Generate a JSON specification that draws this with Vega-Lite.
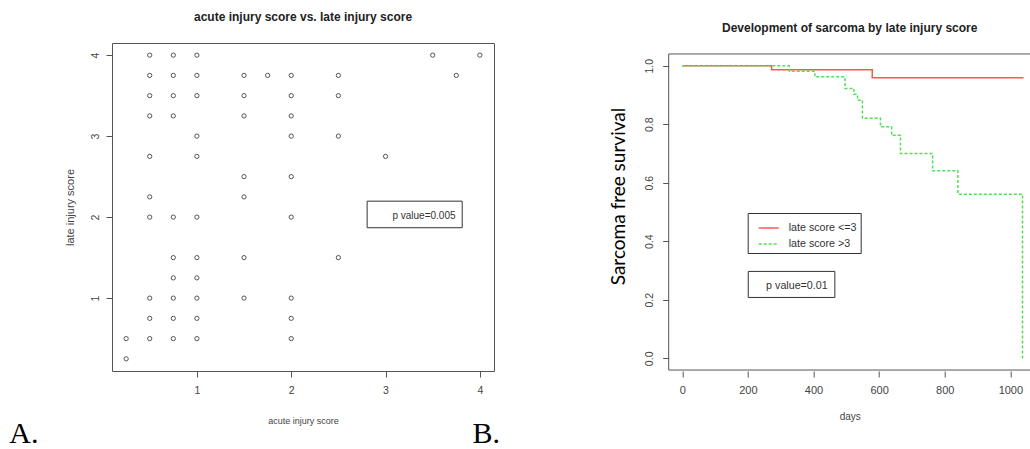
{
  "$schema": "https://vega.github.io/schema/vega-lite/v6.json",
  "background": "white",
  "padding": {"left": 8, "top": 10, "right": 0, "bottom": 0},
  "spacing": 174.7,
  "bounds": "flush",
  "resolve": {"scale": {"color": "independent", "strokeDash": "independent"}},
  "config": {
    "view": {"stroke": "#555", "strokeWidth": 1},
    "axis": {
      "domain": false, "grid": false, "ticks": true, "tickColor": "#555", "tickSize": 6,
      "labelFont": "Liberation Sans", "labelFontSize": 10.5, "labelColor": "#444",
      "titleFont": "Liberation Sans", "titleFontWeight": "normal", "titleColor": "#444"
    },
    "title": {"font": "Liberation Sans", "fontSize": 12, "fontWeight": "bold", "color": "#222", "anchor": "middle"}
  },
  "hconcat": [
    {
      "width": 382,
      "height": 328,
      "title": {"text": "acute injury score vs. late injury score", "offset": 19},
      "layer": [
        {
          "data": {"values": [
            {"acute": 0.5, "late": 4}, {"acute": 0.75, "late": 4}, {"acute": 1, "late": 4}, {"acute": 3.5, "late": 4}, {"acute": 4, "late": 4},
            {"acute": 0.5, "late": 3.75}, {"acute": 0.75, "late": 3.75}, {"acute": 1, "late": 3.75}, {"acute": 1.5, "late": 3.75}, {"acute": 1.75, "late": 3.75}, {"acute": 2, "late": 3.75}, {"acute": 2.5, "late": 3.75}, {"acute": 3.75, "late": 3.75},
            {"acute": 0.5, "late": 3.5}, {"acute": 0.75, "late": 3.5}, {"acute": 1, "late": 3.5}, {"acute": 1.5, "late": 3.5}, {"acute": 2, "late": 3.5}, {"acute": 2.5, "late": 3.5},
            {"acute": 0.5, "late": 3.25}, {"acute": 0.75, "late": 3.25}, {"acute": 1.5, "late": 3.25}, {"acute": 2, "late": 3.25},
            {"acute": 1, "late": 3}, {"acute": 2, "late": 3}, {"acute": 2.5, "late": 3},
            {"acute": 0.5, "late": 2.75}, {"acute": 1, "late": 2.75}, {"acute": 3, "late": 2.75},
            {"acute": 1.5, "late": 2.5}, {"acute": 2, "late": 2.5},
            {"acute": 0.5, "late": 2.25}, {"acute": 1.5, "late": 2.25},
            {"acute": 0.5, "late": 2}, {"acute": 0.75, "late": 2}, {"acute": 1, "late": 2}, {"acute": 2, "late": 2},
            {"acute": 0.75, "late": 1.5}, {"acute": 1, "late": 1.5}, {"acute": 1.5, "late": 1.5}, {"acute": 2.5, "late": 1.5},
            {"acute": 0.75, "late": 1.25}, {"acute": 1, "late": 1.25},
            {"acute": 0.5, "late": 1}, {"acute": 0.75, "late": 1}, {"acute": 1, "late": 1}, {"acute": 1.5, "late": 1}, {"acute": 2, "late": 1},
            {"acute": 0.5, "late": 0.75}, {"acute": 0.75, "late": 0.75}, {"acute": 1, "late": 0.75}, {"acute": 2, "late": 0.75},
            {"acute": 0.25, "late": 0.5}, {"acute": 0.5, "late": 0.5}, {"acute": 0.75, "late": 0.5}, {"acute": 1, "late": 0.5}, {"acute": 2, "late": 0.5},
            {"acute": 0.25, "late": 0.25}
          ]},
          "mark": {"type": "point", "shape": "circle", "filled": false, "size": 18, "stroke": "#555", "strokeWidth": 1, "opacity": 1},
          "encoding": {
            "x": {"field": "acute", "type": "quantitative",
                  "scale": {"domain": [0.1, 4.15], "nice": false, "zero": false},
                  "axis": {"values": [1, 2, 3, 4], "format": "d", "title": "acute injury score", "titleFontSize": 9, "labelPadding": 8, "titlePadding": 21, "labelAngle": 0}},
            "y": {"field": "late", "type": "quantitative",
                  "scale": {"domain": [0.1, 4.15], "nice": false, "zero": false},
                  "axis": {"values": [1, 2, 3, 4], "format": "d", "title": "late injury score", "titleFontSize": 11, "labelAngle": -90, "labelAlign": "center", "labelBaseline": "bottom", "labelPadding": 6, "titlePadding": 15}}
          }
        },
        {
          "data": {"values": [{}]},
          "mark": {"type": "rect", "fill": "white", "stroke": "#333", "strokeWidth": 1},
          "encoding": {"x": {"datum": 2.805}, "x2": {"datum": 3.813}, "y": {"datum": 2.197}, "y2": {"datum": 1.869}}
        },
        {
          "data": {"values": [{}]},
          "mark": {"type": "text", "align": "right", "baseline": "middle", "font": "Liberation Sans", "fontSize": 10, "color": "#333"},
          "encoding": {"x": {"datum": 3.742}, "y": {"datum": 2.012}, "text": {"value": "p value=0.005"}}
        },
        {
          "data": {"values": [{}]},
          "mark": {"type": "text", "align": "left", "baseline": "alphabetic", "font": "Liberation Serif", "fontSize": 30, "color": "#000", "clip": false},
          "encoding": {"x": {"datum": -0.989}, "y": {"datum": -0.788}, "text": {"value": "A."}}
        },
        {
          "data": {"values": [{}]},
          "mark": {"type": "text", "align": "left", "baseline": "alphabetic", "font": "Liberation Serif", "fontSize": 30, "color": "#000", "clip": false},
          "encoding": {"x": {"datum": 3.922}, "y": {"datum": -0.788}, "text": {"value": "B."}}
        }
      ]
    },
    {
      "width": 362,
      "height": 328,
      "view": {"stroke": null},
      "title": {"text": "Development of sarcoma by late injury score", "offset": 8},
      "layer": [
        {
          "data": {"values": [{}]},
          "mark": {"type": "rule", "stroke": "#555", "strokeWidth": 1},
          "encoding": {"x": {"datum": -41.5}, "x2": {"datum": 1062}, "y": {"datum": 1.04}}
        },
        {
          "data": {"values": [{}]},
          "mark": {"type": "rule", "stroke": "#555", "strokeWidth": 1},
          "encoding": {"x": {"datum": -41.5}, "x2": {"datum": 1062}, "y": {"datum": -0.04}}
        },
        {
          "data": {"values": [{}]},
          "mark": {"type": "rule", "stroke": "#555", "strokeWidth": 1},
          "encoding": {"x": {"datum": -41.5}, "y": {"datum": -0.04}, "y2": {"datum": 1.04}}
        },
        {
          "data": {"values": [
            {"days": 0, "surv": 1.0, "group": "late score <=3"},
            {"days": 272, "surv": 0.986, "group": "late score <=3"},
            {"days": 579, "surv": 0.959, "group": "late score <=3"},
            {"days": 1040, "surv": 0.959, "group": "late score <=3"},
            {"days": 0, "surv": 1.0, "group": "late score >3"},
            {"days": 326, "surv": 0.981, "group": "late score >3"},
            {"days": 404, "surv": 0.962, "group": "late score >3"},
            {"days": 496, "surv": 0.922, "group": "late score >3"},
            {"days": 523, "surv": 0.902, "group": "late score >3"},
            {"days": 534, "surv": 0.882, "group": "late score >3"},
            {"days": 549, "surv": 0.82, "group": "late score >3"},
            {"days": 604, "surv": 0.791, "group": "late score >3"},
            {"days": 638, "surv": 0.762, "group": "late score >3"},
            {"days": 665, "surv": 0.70, "group": "late score >3"},
            {"days": 763, "surv": 0.641, "group": "late score >3"},
            {"days": 840, "surv": 0.561, "group": "late score >3"},
            {"days": 1037, "surv": 0.0, "group": "late score >3"}
          ]},
          "mark": {"type": "line", "interpolate": "step-after", "strokeWidth": 1.5},
          "encoding": {
            "x": {"field": "days", "type": "quantitative",
                  "scale": {"domain": [-41.5, 1062], "nice": false, "zero": false},
                  "axis": {"values": [0, 200, 400, 600, 800, 1000], "format": "d", "title": "days", "titleFontSize": 10, "labelFontSize": 11, "labelPadding": 7, "titlePadding": 16, "labelAngle": 0}},
            "y": {"field": "surv", "type": "quantitative",
                  "scale": {"domain": [-0.0433, 1.0775], "nice": false, "zero": false},
                  "axis": {"values": [0, 0.2, 0.4, 0.6, 0.8, 1.0], "format": ".1f", "title": "Sarcoma free survival", "titleFont": "Lato", "titleFontSize": 19, "titleColor": "#000", "titleY": 153, "labelAngle": -90, "labelAlign": "center", "labelBaseline": "bottom", "labelPadding": 8, "titlePadding": 16}},
            "color": {"field": "group", "type": "nominal",
                      "scale": {"domain": ["late score <=3", "late score >3"], "range": ["#ff5555", "#55dd55"]},
                      "legend": {"title": null, "orient": "none", "legendX": 79, "legendY": 170, "strokeColor": "#333", "fillColor": "white", "padding": 4,
                                 "symbolType": "stroke", "symbolSize": 400, "symbolStrokeWidth": 1.5, "symbolOffset": 6, "labelOffset": 9,
                                 "labelFont": "Liberation Sans", "labelFontSize": 10.7, "labelColor": "#333", "rowPadding": -7}},
            "strokeDash": {"field": "group", "type": "nominal",
                           "scale": {"domain": ["late score <=3", "late score >3"], "range": [[1, 0], [3, 2]]},
                           "legend": {"title": null, "orient": "none", "legendX": 79, "legendY": 170, "strokeColor": "#333", "fillColor": "white", "padding": 4,
                                      "symbolType": "stroke", "symbolSize": 400, "symbolStrokeWidth": 1.5, "symbolOffset": 6, "labelOffset": 9,
                                      "labelFont": "Liberation Sans", "labelFontSize": 10.7, "labelColor": "#333", "rowPadding": -7}}
          }
        },
        {
          "data": {"values": [{}]},
          "mark": {"type": "rect", "fill": "white", "stroke": "#333", "strokeWidth": 1},
          "encoding": {"x": {"datum": 201}, "x2": {"datum": 465}, "y": {"datum": 0.297}, "y2": {"datum": 0.208}}
        },
        {
          "data": {"values": [{}]},
          "mark": {"type": "text", "align": "right", "baseline": "middle", "font": "Liberation Sans", "fontSize": 10.7, "color": "#333"},
          "encoding": {"x": {"datum": 443}, "y": {"datum": 0.248}, "text": {"value": "p value=0.01"}}
        }
      ]
    }
  ]
}
